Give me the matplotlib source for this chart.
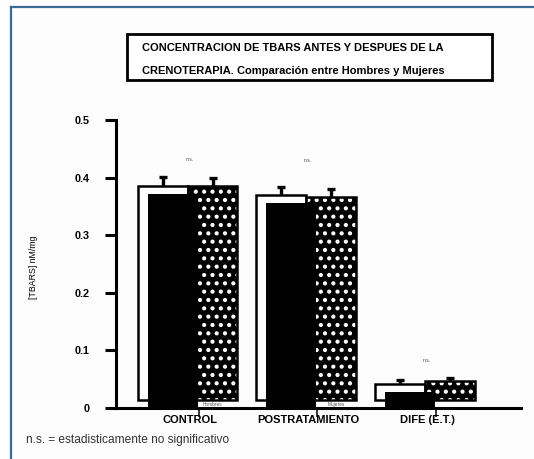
import matplotlib
matplotlib.use("Agg")
import matplotlib.pyplot as plt
from matplotlib.patches import Rectangle
from matplotlib.lines import Line2D
from matplotlib.transforms import ScaledTranslation
import numpy as np

plt.rcParams['font.family'] = ['Liberation Sans', 'DejaVu Sans']
plt.rcParams['hatch.linewidth'] = 1.8

# Mean TBARS concentration (nM/mg) and standard error, men vs women
categories = ["CONTROL", "POSTRATAMIENTO", "DIFE (E.T.)"]
hombres = [0.372, 0.356, 0.028]
hombres_err = [0.016, 0.014, 0.006]
mujeres = [0.371, 0.352, 0.033]
mujeres_err = [0.014, 0.014, 0.005]
series_names = ["Hombres", "Mujeres"]
yticks = [0, 0.1, 0.2, 0.3, 0.4, 0.5]
ytick_labels = ["0", "0.1", "0.2", "0.3", "0.4", "0.5"]
ns_text = "n.s."
ns_label_y = [0.432, 0.430, 0.083]

title_lines = ["CONCENTRACION DE TBARS ANTES Y DESPUES DE LA",
               "CRENOTERAPIA. Comparación entre Hombres y Mujeres"]
ylabel = "[TBARS] nM/mg"
footnote = "n.s. = estadisticamente no significativo"

W, H, DPI = 534, 459, 100
fig = plt.figure(figsize=(W / DPI, H / DPI), dpi=DPI)
fig.patch.set_facecolor('white')


def fx(px):
    return px / W


def fy(py):
    return 1 - py / H


# page panel with a blue frame on the top and left sides
fig.patches.append(Rectangle((fx(11), 0), 1 - fx(11), fy(7), transform=fig.transFigure,
                             facecolor='#fdfdfd', edgecolor='none', zorder=-5))
frame_kw = dict(transform=fig.transFigure, color='#3b6b95', lw=1.6, zorder=-4)
fig.lines.append(Line2D([fx(11), 1], [fy(7), fy(7)], **frame_kw))
fig.lines.append(Line2D([fx(11), fx(11)], [fy(7), 0], **frame_kw))

ax = fig.add_axes([fx(116), fy(408), fx(521) - fx(116), fy(120) - fy(408)])
ax.set_facecolor('none')
ax.set_xlim(-0.700, 2.717)
ax.set_ylim(0, 0.5)

x = np.arange(len(categories))
bar_w = 0.42
back_left = -0.515
depth_x = 0.084
depth_y = 0.0139

# back face of the men's bars (white) and their solid front face
ax.bar(x + back_left, hombres, width=bar_w, bottom=depth_y, align='edge',
       facecolor='white', edgecolor='black', linewidth=1.8, zorder=2)
# women's bars: white dots on black
ax.bar(x + back_left + bar_w, mujeres, width=bar_w, bottom=depth_y, align='edge',
       facecolor='black', edgecolor='white', hatch='..', linewidth=0, zorder=2)
ax.bar(x + back_left + bar_w, mujeres, width=bar_w, bottom=depth_y, align='edge',
       fill=False, edgecolor='black', linewidth=1.8, zorder=2.5)
ax.bar(x + back_left + depth_x, hombres, width=bar_w, bottom=0, align='edge',
       color='black', linewidth=0, zorder=3)

# one-sided error bars
for centers, vals, errs in [(x + back_left + bar_w / 2, hombres, hombres_err),
                            (x + back_left + 1.5 * bar_w, mujeres, mujeres_err)]:
    tops = np.array(vals) + depth_y
    eb = ax.errorbar(centers, tops, yerr=[np.zeros(len(errs)), errs], fmt='none',
                     ecolor='black', elinewidth=2.4, capsize=2.8, capthick=2.4,
                     zorder=4)
    eb[1][0].set_visible(False)

for xi, yi in zip(x, ns_label_y):
    ax.text(xi - 0.08, yi, ns_text, fontsize=3.6, color='#444444',
            ha='center', va='center')

# small series labels under the women's bars
ax.text(x[0] + back_left + 1.5 * bar_w, 0.0065, series_names[0], fontsize=3.4,
        color='#555555', ha='center', va='center', zorder=5)
ax.text(x[1] + back_left + 1.5 * bar_w + 0.04, 0.0065, series_names[1], fontsize=3.4,
        color='#555555', ha='center', va='center', zorder=5)

for side in ['top', 'right']:
    ax.spines[side].set_visible(False)
for side in ['left', 'bottom']:
    ax.spines[side].set_linewidth(2.2)
    ax.spines[side].set_zorder(6)

ax.set_yticks(yticks)
ax.set_yticklabels(ytick_labels, fontsize=7.8, fontweight='bold')
ax.tick_params(axis='y', direction='out', length=8, width=2.2, pad=11)
ax.set_xticks(x)
ax.set_xticklabels(categories, fontsize=8, fontweight='bold')
ax.tick_params(axis='x', direction='out', length=6.5, width=1.1, pad=-1.5)
label_shift = ScaledTranslation(-0.09, 0, fig.dpi_scale_trans)
for lab in ax.get_xticklabels():
    lab.set_transform(lab.get_transform() + label_shift)
    lab.set_zorder(7)

fig.text(fx(33), fy(267), ylabel, rotation=90, fontsize=6.3, ha='center', va='center')

# title box
fig.patches.append(Rectangle((fx(127), fy(80)), fx(492) - fx(127), fy(34) - fy(80),
                             transform=fig.transFigure, facecolor='white',
                             edgecolor='black', linewidth=2.0, zorder=2))
fig.text(fx(142), fy(48), title_lines[0], fontsize=8.0, fontweight='bold',
         ha='left', va='center', zorder=3)
fig.text(fx(142), fy(71), title_lines[1], fontsize=8.0, fontweight='bold',
         ha='left', va='center', zorder=3)

fig.text(fx(26), fy(440), footnote, fontsize=8.6, color='#333333',
         ha='left', va='center')

fig.savefig("out.png", dpi=DPI)
